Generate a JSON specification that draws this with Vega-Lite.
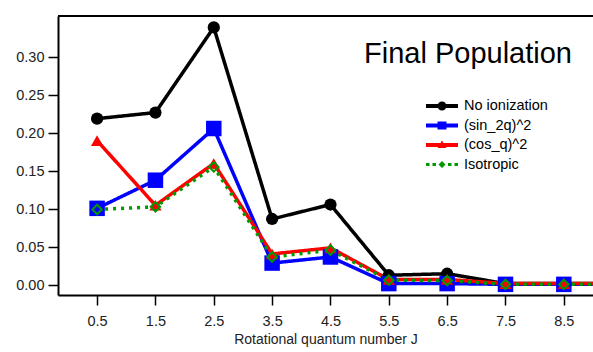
{
  "$schema": "https://vega.github.io/schema/vega-lite/v6.json",
  "width": 535,
  "height": 279,
  "autosize": {"type": "none"},
  "padding": {"left": 58, "top": 16, "right": 0, "bottom": 57},
  "background": "white",
  "config": {
    "view": {"stroke": null},
    "font": "Liberation Sans",
    "axis": {
      "grid": false,
      "domainColor": "black",
      "domainWidth": 2,
      "tickColor": "black",
      "tickWidth": 1.5,
      "tickSize": 10,
      "labelColor": "#222222",
      "labelFont": "Liberation Sans",
      "labelFontSize": 14.5,
      "titleFont": "Liberation Sans",
      "titleFontSize": 14,
      "titleFontWeight": "normal",
      "titleColor": "#222222"
    },
    "legend": {
      "orient": "none",
      "legendX": 374,
      "legendY": 80,
      "labelFont": "Liberation Sans",
      "labelFontSize": 14.5,
      "labelColor": "black",
      "labelOffset": 12,
      "rowPadding": 2.5,
      "padding": 0,
      "symbolSize": 400,
      "title": null
    }
  },
  "datasets": {
    "pops": [
      {"J": 0.5, "series": "No ionization", "pop": 0.219},
      {"J": 1.5, "series": "No ionization", "pop": 0.227},
      {"J": 2.5, "series": "No ionization", "pop": 0.339},
      {"J": 3.5, "series": "No ionization", "pop": 0.087},
      {"J": 4.5, "series": "No ionization", "pop": 0.106},
      {"J": 5.5, "series": "No ionization", "pop": 0.013},
      {"J": 6.5, "series": "No ionization", "pop": 0.015},
      {"J": 7.5, "series": "No ionization", "pop": 0.002},
      {"J": 8.5, "series": "No ionization", "pop": 0.002},
      {"J": 9.5, "series": "No ionization", "pop": 0.002},
      {"J": 0.5, "series": "(sin_2q)^2", "pop": 0.101},
      {"J": 1.5, "series": "(sin_2q)^2", "pop": 0.138},
      {"J": 2.5, "series": "(sin_2q)^2", "pop": 0.206},
      {"J": 3.5, "series": "(sin_2q)^2", "pop": 0.029},
      {"J": 4.5, "series": "(sin_2q)^2", "pop": 0.037},
      {"J": 5.5, "series": "(sin_2q)^2", "pop": 0.002},
      {"J": 6.5, "series": "(sin_2q)^2", "pop": 0.002},
      {"J": 7.5, "series": "(sin_2q)^2", "pop": 0.001},
      {"J": 8.5, "series": "(sin_2q)^2", "pop": 0.001},
      {"J": 9.5, "series": "(sin_2q)^2", "pop": 0.001},
      {"J": 0.5, "series": "(cos_q)^2", "pop": 0.19},
      {"J": 1.5, "series": "(cos_q)^2", "pop": 0.105},
      {"J": 2.5, "series": "(cos_q)^2", "pop": 0.16},
      {"J": 3.5, "series": "(cos_q)^2", "pop": 0.041},
      {"J": 4.5, "series": "(cos_q)^2", "pop": 0.049},
      {"J": 5.5, "series": "(cos_q)^2", "pop": 0.0075},
      {"J": 6.5, "series": "(cos_q)^2", "pop": 0.0075},
      {"J": 7.5, "series": "(cos_q)^2", "pop": 0.002},
      {"J": 8.5, "series": "(cos_q)^2", "pop": 0.002},
      {"J": 9.5, "series": "(cos_q)^2", "pop": 0.002},
      {"J": 0.5, "series": "Isotropic", "pop": 0.0995},
      {"J": 1.5, "series": "Isotropic", "pop": 0.103},
      {"J": 2.5, "series": "Isotropic", "pop": 0.1555},
      {"J": 3.5, "series": "Isotropic", "pop": 0.037},
      {"J": 4.5, "series": "Isotropic", "pop": 0.046},
      {"J": 5.5, "series": "Isotropic", "pop": 0.0065},
      {"J": 6.5, "series": "Isotropic", "pop": 0.006},
      {"J": 7.5, "series": "Isotropic", "pop": 0.001},
      {"J": 8.5, "series": "Isotropic", "pop": 0.001},
      {"J": 9.5, "series": "Isotropic", "pop": 0.001}
    ],
    "titleRow": [{"label": "Final Population", "J": 8.64, "pop": 0.292}],
    "frameTop": [{"x1": -0.17, "x2": 9.0, "pop": 0.354}]
  },
  "data": {"name": "pops"},
  "encoding": {
    "x": {
      "field": "J",
      "type": "quantitative",
      "scale": {"domain": [-0.17, 9.0], "nice": false, "zero": false},
      "axis": {
        "values": [0.5, 1.5, 2.5, 3.5, 4.5, 5.5, 6.5, 7.5, 8.5],
        "format": ".1f",
        "labelPadding": 9,
        "title": "Rotational quantum number J",
        "titlePadding": 5
      }
    },
    "y": {
      "field": "pop",
      "type": "quantitative",
      "scale": {"domain": [-0.013, 0.354], "nice": false, "zero": false},
      "axis": {
        "values": [0, 0.05, 0.1, 0.15, 0.2, 0.25, 0.3],
        "format": ".2f",
        "labelPadding": 4,
        "title": null
      }
    }
  },
  "layer": [
    {
      "mark": {"type": "line", "clip": true, "strokeWidth": 3.5, "strokeCap": "butt"},
      "encoding": {
        "color": {
          "field": "series",
          "type": "nominal",
          "scale": {
            "domain": ["No ionization", "(sin_2q)^2", "(cos_q)^2", "Isotropic"],
            "range": ["#000000", "#0000ff", "#ff0000", "#009900"]
          },
          "legend": {
            "symbolType": "circle",
            "encode": {
              "symbols": {
                "update": {
                  "shape": {"signal": "datum.value === 'No ionization' ? 'M-1.6,-0.19H1.6V0.19H-1.6Z M-0.45,0A0.45,0.45 0 1,1 0.45,0A0.45,0.45 0 1,1 -0.45,0Z' : datum.value === '(sin_2q)^2' ? 'M-1.6,-0.19H1.6V0.19H-1.6Z M-0.45,-0.4H0.45V0.4H-0.45Z' : datum.value === '(cos_q)^2' ? 'M-1.6,-0.19H1.6V0.19H-1.6Z M0,-0.45L0.45,0.3H-0.45Z' : 'M-1.6,-0.16H-1.25V0.16H-1.6Z M-0.95,-0.16H-0.6V0.16H-0.95Z M0.6,-0.16H0.95V0.16H0.6Z M1.25,-0.16H1.6V0.16H1.25Z M0,-0.35L0.35,0L0,0.35L-0.35,0Z'"},
                  "fill": {"signal": "scale('color', datum.value)"},
                  "fillOpacity": {"value": 1},
                  "strokeWidth": {"value": 0},
                  "strokeDash": {"value": [1, 0]},
                  "size": {"value": 400}
                }
              }
            }
          }
        },
        "strokeDash": {
          "field": "series",
          "type": "nominal",
          "scale": {
            "domain": ["No ionization", "(sin_2q)^2", "(cos_q)^2", "Isotropic"],
            "range": [[1, 0], [1, 0], [1, 0], [3, 5]]
          },
          "legend": null
        },
        "order": {"field": "J"}
      }
    },
    {
      "transform": [{"filter": "datum.series === 'No ionization'"}],
      "mark": {"type": "point", "shape": "circle", "filled": true, "color": "#000000", "size": 150, "opacity": 1, "clip": true}
    },
    {
      "transform": [{"filter": "datum.series === '(sin_2q)^2'"}],
      "mark": {"type": "point", "shape": "square", "filled": true, "color": "#0000ff", "size": 240, "opacity": 1, "clip": true}
    },
    {
      "transform": [{"filter": "datum.series === '(cos_q)^2'"}],
      "mark": {"type": "point", "shape": "triangle-up", "filled": true, "color": "#ff0000", "size": 150, "opacity": 1, "clip": true}
    },
    {
      "transform": [{"filter": "datum.series === 'Isotropic'"}],
      "mark": {"type": "point", "shape": "diamond", "filled": false, "color": "#009900", "strokeWidth": 2, "size": 90, "opacity": 1, "clip": true}
    },
    {
      "data": {"name": "frameTop"},
      "mark": {"type": "rule", "color": "black", "strokeWidth": 2},
      "encoding": {
        "x": {"field": "x1", "type": "quantitative"},
        "x2": {"field": "x2"},
        "y": {"field": "pop", "type": "quantitative"}
      }
    },
    {
      "data": {"name": "titleRow"},
      "mark": {"type": "text", "align": "right", "baseline": "alphabetic", "fontSize": 29, "font": "Liberation Sans", "color": "black"},
      "encoding": {
        "text": {"field": "label"}
      }
    }
  ]
}
